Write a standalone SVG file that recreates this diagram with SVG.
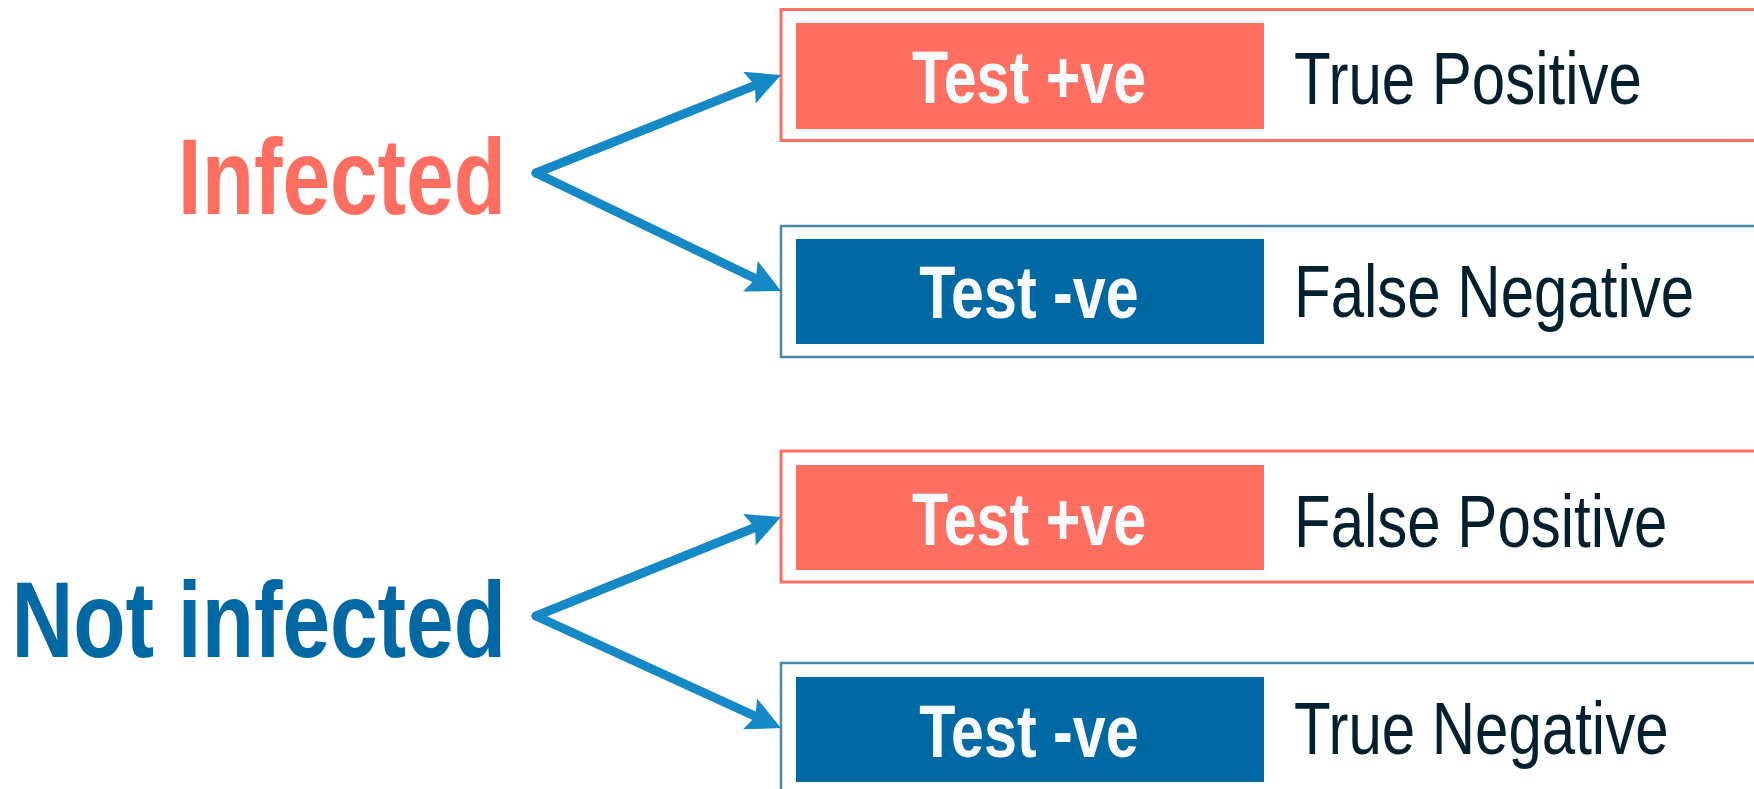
<svg xmlns="http://www.w3.org/2000/svg" width="1754" height="789" viewBox="0 0 1754 789">
<style>
.bg{fill:#ffffff}
.outerPos{fill:none;stroke:#FF6F61;stroke-width:3}
.outerNeg{fill:none;stroke:#4A88A8;stroke-width:2.5}
.fillPos{fill:#FF6F61}
.fillNeg{fill:#0069A3}
.btn{font-family:"Liberation Sans",Arial,sans-serif;font-weight:bold;font-size:74px;fill:#F8FCFF;text-anchor:middle}
.res{font-family:"Liberation Sans",Arial,sans-serif;font-size:75px;fill:#03202F}
.lbl{font-family:"Liberation Sans",Arial,sans-serif;font-weight:bold;font-size:107px;text-anchor:end}
.conn{fill:none;stroke:#1589C6;stroke-width:9;stroke-linecap:round;stroke-linejoin:round}
</style>
<defs>
<marker id="ah" markerUnits="userSpaceOnUse" viewBox="0 0 36 36" markerWidth="36" markerHeight="36" refX="6" refY="18" orient="auto">
<path d="M0,1 L34,18 L0,35 L6,18 Z" fill="#1589C6"/>
</marker>
</defs>
<rect class="bg" x="0" y="0" width="1754" height="789"/>

<g id="infected"><text class="lbl" transform="scale(0.8,1)" x="632.5" y="214" fill="#FF6F61">Infected</text></g>
<g id="not-infected"><text class="lbl" transform="scale(0.8,1)" x="632.5" y="657" fill="#0069A3">Not infected</text></g>

<g id="true-positive">
<path class="outerPos" d="M1754,9.5 H781 V140.5 H1754"/>
<rect class="fillPos" x="796" y="23" width="468" height="106"/>
<text class="btn" transform="scale(0.8,1)" x="1286.25" y="103">Test +ve</text>
<text class="res" transform="scale(0.8,1)" x="1617.5" y="104">True Positive</text>
</g>

<g id="false-negative">
<path class="outerNeg" d="M1754,226 H781 V357 H1754"/>
<rect class="fillNeg" x="796" y="239" width="468" height="105"/>
<text class="btn" transform="scale(0.8,1)" x="1286.25" y="318">Test -ve</text>
<text class="res" transform="scale(0.8,1)" x="1617.5" y="317">False Negative</text>
</g>

<g id="false-positive">
<path class="outerPos" d="M1754,451 H781 V582 H1754"/>
<rect class="fillPos" x="796" y="465" width="468" height="105"/>
<text class="btn" transform="scale(0.8,1)" x="1286.25" y="545">Test +ve</text>
<text class="res" transform="scale(0.8,1)" x="1617.5" y="547">False Positive</text>
</g>

<g id="true-negative">
<path class="outerNeg" d="M1754,663 H781 V789"/>
<rect class="fillNeg" x="796" y="677" width="468" height="105"/>
<text class="btn" transform="scale(0.8,1)" x="1286.25" y="757">Test -ve</text>
<text class="res" transform="scale(0.8,1)" x="1617.5" y="754">True Negative</text>
</g>

<g id="connectors">
<path class="conn" d="M536,173 L755,85.4" marker-end="url(#ah)"/>
<path class="conn" d="M536,173 L755.8,278.8" marker-end="url(#ah)"/>
<path class="conn" d="M536,616 L755,527.5" marker-end="url(#ah)"/>
<path class="conn" d="M536,616 L755.5,716.4" marker-end="url(#ah)"/>
</g>
</svg>
